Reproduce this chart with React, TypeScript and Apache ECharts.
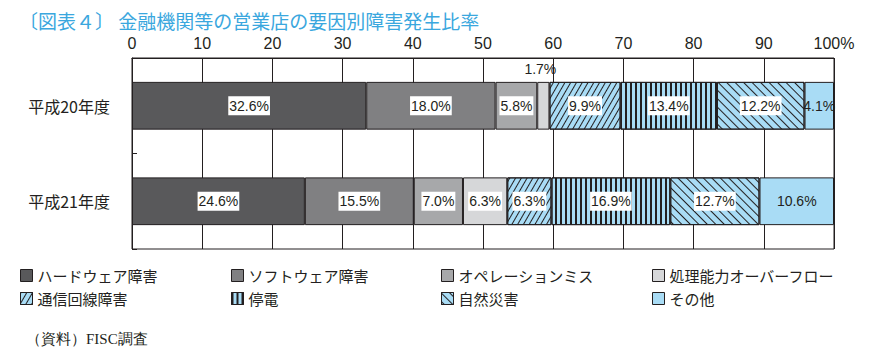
import React, { useEffect, useRef } from "react";
import * as echarts from "echarts";

const categories = ["平成20年度", "平成21年度"];
const seriesNames = [
  "ハードウェア障害",
  "ソフトウェア障害",
  "オペレーションミス",
  "処理能力オーバーフロー",
  "通信回線障害",
  "停電",
  "自然災害",
  "その他",
];
const hardware = [32.6, 24.6];
const software = [18.0, 15.5];
const operation = [5.8, 7.0];
const overflow = [1.7, 6.3];
const comm = [9.9, 6.3];
const power = [13.4, 16.9];
const natural = [12.2, 12.7];
const other = [4.1, 10.6];
const xTicks = [0, 10, 20, 30, 40, 50, 60, 70, 80, 90, 100];

const seriesValues = [hardware, software, operation, overflow, comm, power, natural, other];

const TITLE = "〔図表４〕 金融機関等の営業店の要因別障害発生比率";
const SOURCE = "（資料）FISC調査";

const INK = "#231f20";
const BLUE = "#a9dcf5";
const fills = ["#59595b", "#808082", "#a7a8aa", "#d6d7d9", BLUE, BLUE, BLUE, BLUE];
const decals: any[] = [
  null,
  null,
  null,
  null,
  { symbol: "rect", symbolSize: 1, dashArrayX: [1, 0], dashArrayY: [1, 4], rotation: -Math.PI / 3, color: INK, backgroundColor: null },
  { symbol: "rect", symbolSize: 1, dashArrayX: [1.2, 2.6], dashArrayY: [1, 0], rotation: 0, color: INK, backgroundColor: null },
  { symbol: "rect", symbolSize: 1, dashArrayX: [1, 0], dashArrayY: [1, 4.5], rotation: Math.PI / 4, color: INK, backgroundColor: null },
  null,
];

const legendPos = [
  { left: 20, top: 268 },
  { left: 231, top: 268 },
  { left: 441, top: 268 },
  { left: 652, top: 268 },
  { left: 20, top: 291 },
  { left: 231, top: 291 },
  { left: 441, top: 291 },
  { left: 652, top: 291 },
];

export default function App() {
  const ref = useRef<HTMLDivElement>(null);
  useEffect(() => {
    if (!ref.current) return;
    const chart = echarts.init(ref.current, null, { renderer: "svg" });
    const totals = categories.map((_, i) => seriesValues.reduce((s, arr) => s + arr[i], 0));

    const series = seriesNames.map((name, si) => {
      const raw = seriesValues[si];
      const itemStyle: any = { color: fills[si], borderColor: INK, borderWidth: 1 };
      if (decals[si]) itemStyle.decal = decals[si];
      return {
        name,
        type: "bar",
        stack: "total",
        barWidth: "50%",
        itemStyle,
        label: {
          show: true,
          position: "inside",
          formatter: (p: any) => raw[p.dataIndex].toFixed(1) + "%",
          color: INK,
          fontSize: 14,
          fontFamily: "'Liberation Sans', Arial, sans-serif",
          backgroundColor: si === 7 ? "transparent" : "#fff",
          padding: [3, 1, 2, 1],
        },
        data: raw.map((v, i) => {
          const item: any = { value: (v / totals[i]) * 100 };
          if (si === 3 && i === 0) {
            item.label = { position: "top", distance: 4, offset: [-3, 0], backgroundColor: "transparent" };
          }
          return item;
        }),
      };
    });

    const option: any = {
      animation: false,
      backgroundColor: "#fff",
      title: {
        text: TITLE,
        left: 14,
        top: 6,
        textStyle: {
          color: "#3aa7de",
          fontSize: 19,
          fontWeight: "normal",
          fontFamily: "'Noto Sans CJK JP', sans-serif",
        },
      },
      graphic: [
        {
          type: "text",
          left: 26,
          top: 331,
          style: {
            text: SOURCE,
            fill: INK,
            fontSize: 15,
            fontFamily: "'Liberation Serif', 'DejaVu Serif', serif",
          },
        },
      ],
      legend: seriesNames.map((name, i) => ({
        data: [name],
        left: legendPos[i].left,
        top: legendPos[i].top,
        icon: "rect",
        itemWidth: 12,
        itemHeight: 12,
        padding: 0,
        selectedMode: false,
        itemStyle: { borderColor: INK, borderWidth: 1 },
        textStyle: {
          color: INK,
          fontSize: 15,
          fontFamily: "'Noto Sans CJK JP', sans-serif",
        },
      })),
      grid: {
        left: 132,
        right: 36,
        top: 58,
        bottom: 108,
        show: true,
        borderColor: INK,
        borderWidth: 1,
        backgroundColor: "transparent",
      },
      xAxis: {
        type: "value",
        position: "top",
        min: xTicks[0],
        max: xTicks[xTicks.length - 1],
        interval: xTicks[1] - xTicks[0],
        axisLine: { show: true, lineStyle: { color: INK, width: 1 } },
        axisTick: { show: false },
        splitLine: { show: true, lineStyle: { color: INK, width: 1 } },
        axisLabel: {
          color: INK,
          fontSize: 16,
          margin: 7,
          fontFamily: "'Liberation Sans', Arial, sans-serif",
          formatter: (v: number) => (v === 100 ? "100%" : String(v)),
        },
      },
      yAxis: {
        type: "category",
        inverse: true,
        data: categories,
        axisLine: { show: true, lineStyle: { color: INK, width: 1 } },
        axisTick: { show: true, inside: true, length: 5, lineStyle: { color: INK } },
        axisLabel: {
          color: INK,
          fontSize: 16,
          margin: 22,
          fontFamily: "'Noto Sans CJK JP', sans-serif",
        },
      },
      series,
    };
    chart.setOption(option);
    return () => chart.dispose();
  }, []);
  return (
    <div
      ref={ref}
      style={{ position: "absolute", left: 0, top: 0, width: 870, height: 357 }}
    />
  );
}
